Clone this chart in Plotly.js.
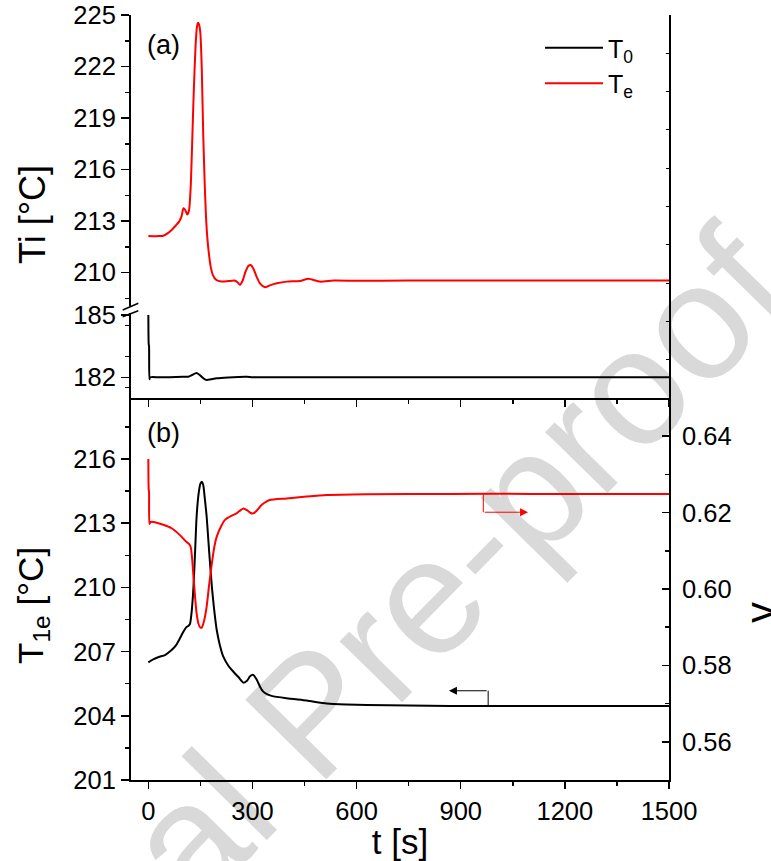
<!DOCTYPE html>
<html><head><meta charset="utf-8">
<script src="https://cdn.plot.ly/plotly-3.0.1.min.js"></script>
<style>html,body{margin:0;padding:0;background:#fff}#chart{width:771px;height:861px}</style>
</head><body><div id="chart"></div>
<script>
// ---- data ----
const tTe = [0, 25, 43, 55, 67, 79, 89, 96, 101, 106, 112, 117, 122, 126, 130, 136, 140, 143, 146, 150, 154, 158, 162, 166, 170, 175, 180, 186, 195, 210, 230, 248, 256, 264, 272, 280, 288, 295, 303, 312, 322, 336, 350, 370, 398, 437, 461, 494, 533, 600, 750, 900, 1100, 1300, 1500];
const Te  = [212.13, 212.12, 212.14, 212.28, 212.48, 212.74, 212.98, 213.3, 213.74, 213.65, 213.38, 213.6, 215.0, 217.4, 220.05, 223.2, 224.3, 224.55, 224.45, 223.9, 221.8, 218.1, 215.4, 213.3, 212.0, 211.0, 210.3, 209.85, 209.58, 209.48, 209.5, 209.53, 209.45, 209.28, 209.55, 210.05, 210.38, 210.44, 210.2, 209.75, 209.35, 209.14, 209.25, 209.37, 209.47, 209.51, 209.64, 209.47, 209.53, 209.52, 209.53, 209.53, 209.53, 209.53, 209.53];

const tT0 = [0, 1, 2, 3, 5, 30, 60, 100, 115, 125, 139, 150, 160, 168, 180, 197, 230, 283, 300, 400, 600, 900, 1200, 1500];
const T0  = [185.0, 183.6, 183.5, 181.9, 182.0, 182.0, 182.0, 182.02, 182.03, 182.1, 182.2, 182.08, 181.93, 181.87, 181.9, 181.95, 181.99, 182.02, 182.0, 182.0, 182.0, 182.0, 182.0, 182.0];

const tT1e = [0, 14, 30, 48, 67, 80, 91, 100, 109, 115, 120, 125, 130, 135, 139, 145, 150, 154, 158, 163, 168, 175, 183, 190, 197, 206, 216, 230, 245, 260, 274, 285, 293, 302, 312, 322, 331, 343, 355, 398, 456, 514, 570, 629, 750, 869, 1000, 1200, 1500];
const T1e  = [206.5, 206.64, 206.75, 206.84, 207.07, 207.3, 207.62, 207.9, 208.13, 208.2, 208.3, 208.9, 210.03, 211.8, 213.3, 214.4, 214.85, 214.94, 214.8, 214.1, 213.3, 211.7, 210.03, 208.9, 208.01, 207.3, 206.76, 206.35, 206.06, 205.8, 205.55, 205.65, 205.85, 205.91, 205.7, 205.35, 205.13, 205.0, 204.93, 204.82, 204.71, 204.58, 204.53, 204.5, 204.48, 204.46, 204.46, 204.46, 204.46];

const tGamma = [0, 1, 2, 3, 6, 10, 43, 67, 91, 109, 117, 122, 126, 130, 135, 139, 145, 150, 154, 160, 168, 175, 183, 190, 197, 210, 221, 240, 254, 265, 274, 285, 295, 302, 312, 326, 340, 350, 398, 456, 514, 629, 869, 1100, 1500];
const gamma  = [0.634, 0.626, 0.6255, 0.617, 0.6175, 0.6176, 0.6168, 0.6159, 0.6141, 0.6124, 0.6118, 0.611, 0.608, 0.6032, 0.5975, 0.5936, 0.5907, 0.5899, 0.5899, 0.5915, 0.5954, 0.601, 0.6067, 0.611, 0.6137, 0.6165, 0.6181, 0.6192, 0.6198, 0.6206, 0.6211, 0.6206, 0.6199, 0.6198, 0.6205, 0.622, 0.6229, 0.6233, 0.6237, 0.6242, 0.6246, 0.6248, 0.6249, 0.6249, 0.6249];

const seriesNames = ['T<sub>0</sub>', 'T<sub>e</sub>'];
const titleTop = 'Ti [°C]';
const titleBottom = 'T<sub>1e</sub> [°C]';
const titleRight = 'γ';
const titleX = 't [s]';
const watermark = 'Journal Pre-proof';

// ---- layout helpers ----
const W = 771, H = 861, ML = 131, MR = 102, MT = 15, MB = 81;
const PW = W - ML - MR, PH = H - MT - MB;
const px = x => (x - ML) / PW;           // pixel -> paper x
const py = y => (H - MB - y) / PH;       // pixel -> paper y

const FONT = 'Liberation Sans, Arial, sans-serif';
const lineCommon = {type: 'scatter', mode: 'lines', line: {shape: 'spline', smoothing: 0.6, width: 2}};

const data = [
  Object.assign({}, lineCommon, {x: tT0, y: T0, xaxis: 'x2', yaxis: 'y2', name: seriesNames[0], legendgroup: 'a', line: Object.assign({}, lineCommon.line, {color: '#000000'})}),
  Object.assign({}, lineCommon, {x: tTe, y: Te, xaxis: 'x2', yaxis: 'y4', name: seriesNames[1], legendgroup: 'b', line: Object.assign({}, lineCommon.line, {color: '#ff0000'})}),
  Object.assign({}, lineCommon, {x: tT1e, y: T1e, xaxis: 'x', yaxis: 'y', showlegend: false, line: Object.assign({}, lineCommon.line, {color: '#000000'})}),
  Object.assign({}, lineCommon, {x: tGamma, y: gamma, xaxis: 'x', yaxis: 'y3', showlegend: false, line: Object.assign({}, lineCommon.line, {color: '#ff0000'})}),
  {type: 'scatter', mode: 'lines', x: [], y: [], xaxis: 'x2', yaxis: 'y5', showlegend: false, hoverinfo: 'skip'}
];

const axBase = {showgrid: false, zeroline: false, showline: true, linecolor: '#000', linewidth: 2,
  ticks: 'outside', ticklen: 8, tickwidth: 1.5, tickcolor: '#000', tickfont: {size: 25.5, color: '#000'}};

const xBase = Object.assign({}, axBase, {range: [-50, 1500], tick0: 0, dtick: 300, ticklen: 7,
  minor: {dtick: 150, ticks: 'outside', ticklen: 4, tickwidth: 1.5, tickcolor: '#000'}});

const dBot = [0, py(398)];
const dTopLow = [py(398), py(313)];
const dTopUp = [py(306), 1];

// watermark baseline: centre point and direction (pixels)
const wmC = [300, 702], wmAng = 45.5 * Math.PI / 180, wmD = 100;

const layout = {
  width: W, height: H,
  margin: {l: ML, r: MR, t: MT, b: MB, pad: 0},
  paper_bgcolor: '#ffffff', plot_bgcolor: 'rgba(0,0,0,0)',
  font: {family: FONT, color: '#000'},
  hovermode: false,
  showlegend: true,
  legend: {x: px(540), xanchor: 'left', y: py(25), yanchor: 'top', bgcolor: 'rgba(0,0,0,0)',
           font: {size: 25, family: FONT}, itemwidth: 58, tracegroupgap: 0, traceorder: 'grouped'},
  xaxis: Object.assign({}, xBase, {anchor: 'y', domain: [0, 1],
    title: {text: titleX, font: {size: 35, family: FONT}, standoff: 4}}),
  xaxis2: Object.assign({}, xBase, {anchor: 'y2', domain: [0, 1], matches: 'x', showticklabels: false}),
  xaxis3: {overlaying: 'x2', anchor: 'y4', side: 'top', range: [-50, 1500], tick0: 0, dtick: 150,
    showgrid: false, zeroline: false, showline: true, linecolor: '#000', linewidth: 2,
    ticks: 'inside', ticklen: 3, tickwidth: 1, tickcolor: '#000', showticklabels: false},
  yaxis: Object.assign({}, axBase, {anchor: 'x', domain: dBot, range: [201, 218.85], tick0: 201, dtick: 3,
    minor: {dtick: 1.5, ticks: 'outside', ticklen: 4, tickwidth: 1.5, tickcolor: '#000'}}),
  yaxis3: Object.assign({}, axBase, {overlaying: 'y', side: 'right', anchor: 'x', range: [0.55, 0.65],
    tick0: 0.56, dtick: 0.02, tickformat: '.2f', ticks: 'inside', ticklen: 7, ticklabelstandoff: 6,
    minor: {dtick: 0.01, ticks: 'inside', ticklen: 4, tickwidth: 1.5, tickcolor: '#000'}}),
  yaxis2: Object.assign({}, axBase, {anchor: 'x2', domain: dTopLow, range: [181.0, 185.1], tick0: 182, dtick: 3,
    minor: {dtick: 1.5, ticks: 'outside', ticklen: 4, tickwidth: 1.5, tickcolor: '#000'}}),
  yaxis4: Object.assign({}, axBase, {anchor: 'x2', domain: dTopUp, range: [208.05, 225], tick0: 210, dtick: 3,
    minor: {dtick: 1.5, ticks: 'outside', ticklen: 4, tickwidth: 1.5, tickcolor: '#000'}}),
  yaxis5: {anchor: 'x2', side: 'right', domain: [py(398), 1], range: [0, 10], dtick: 1,
    showgrid: false, zeroline: false, showline: true, linecolor: '#000', linewidth: 2,
    ticks: 'inside', ticklen: 3, tickwidth: 1, tickcolor: '#000', showticklabels: false},
  shapes: [
    // watermark (drawn below the curves)
    {type: 'line', xref: 'paper', yref: 'paper', layer: 'below',
     x0: px(wmC[0] - wmD * Math.cos(wmAng)), y0: py(wmC[1] + wmD * Math.sin(wmAng)),
     x1: px(wmC[0] + wmD * Math.cos(wmAng)), y1: py(wmC[1] - wmD * Math.sin(wmAng)),
     line: {width: 0, color: 'rgba(0,0,0,0)'},
     label: {text: watermark, textposition: 'middle', yanchor: 'middle',
             font: {family: FONT, size: 165, color: '#d9d9d9'}}},
    // axis break marks
    {type: 'line', xref: 'paper', yref: 'paper', x0: px(122.7), y0: py(310), x1: px(138.3), y1: py(303.3),
     line: {color: '#000', width: 1.5}},
    {type: 'line', xref: 'paper', yref: 'paper', x0: px(122.7), y0: py(316.7), x1: px(138.3), y1: py(310.7),
     line: {color: '#000', width: 1.5}},
    // arrow stems
    {type: 'line', xref: 'x', yref: 'y3', x0: 965, x1: 965, y0: 0.6249, y1: 0.6201, line: {color: '#ff0000', width: 1}},
    {type: 'line', xref: 'x', yref: 'y', x0: 979, x1: 979, y0: 204.46, y1: 205.17, line: {color: '#000', width: 1}}
  ],
  annotations: [
    {xref: 'x', yref: 'y3', axref: 'x', ayref: 'y3', x: 1094, y: 0.6201, ax: 965, ay: 0.6201, text: '',
     showarrow: true, arrowhead: 2, arrowsize: 1.6, arrowwidth: 1, arrowcolor: '#ff0000', standoff: 0, startstandoff: 0},
    {xref: 'x', yref: 'y', axref: 'x', ayref: 'y', x: 866, y: 205.17, ax: 979, ay: 205.17, text: '',
     showarrow: true, arrowhead: 2, arrowsize: 1.6, arrowwidth: 1, arrowcolor: '#000', standoff: 0, startstandoff: 0},
    {xref: 'paper', yref: 'paper', x: px(145), y: py(45), xanchor: 'left', yanchor: 'middle', showarrow: false,
     text: '(a)', font: {size: 27, family: FONT}},
    {xref: 'paper', yref: 'paper', x: px(145), y: py(433), xanchor: 'left', yanchor: 'middle', showarrow: false,
     text: '(b)', font: {size: 27, family: FONT}},
    {xref: 'paper', yref: 'paper', x: px(33), y: py(215), xanchor: 'center', yanchor: 'middle', showarrow: false,
     textangle: -90, text: titleTop, font: {size: 36, family: FONT}},
    {xref: 'paper', yref: 'paper', x: px(33), y: py(606), xanchor: 'center', yanchor: 'middle', showarrow: false,
     textangle: -90, text: titleBottom, font: {size: 35, family: FONT}},
    {xref: 'paper', yref: 'paper', x: px(760), y: py(613), xanchor: 'center', yanchor: 'middle', showarrow: false,
     textangle: -90, text: titleRight, font: {size: 42, family: FONT}}
  ]
};

Plotly.newPlot('chart', data, layout, {staticPlot: true, displayModeBar: false});
</script>
</body></html>
